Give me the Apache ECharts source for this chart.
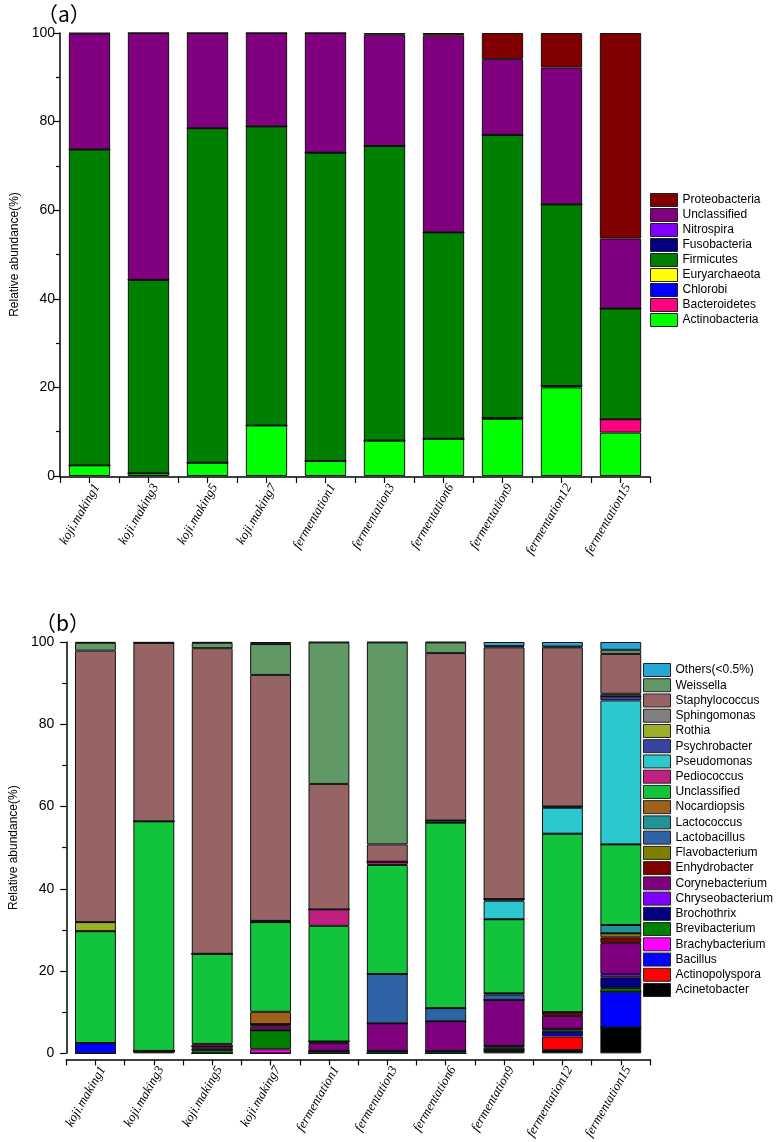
<!DOCTYPE html>
<html><head><meta charset="utf-8">
<script src="https://cdn.jsdelivr.net/npm/echarts@6/dist/echarts.min.js"></script>
<style>html,body{margin:0;padding:0;background:#fff}#c{width:776px;height:1142px}</style>
</head><body><div id="c"></div>
<script>
const categories = ['koji.making1','koji.making3','koji.making5','koji.making7','fermentation1','fermentation3','fermentation6','fermentation9','fermentation12','fermentation15'];
const yTicks = [0,20,40,60,80,100];

// Panel (a) – phylum level (stack order bottom -> top)
const phylumNames = ['Actinobacteria','Bacteroidetes','Chlorobi','Euryarchaeota','Firmicutes','Fusobacteria','Nitrospira','Unclassified','Proteobacteria'];
const phylumColors = ['#00FF00','#FF0080','#0000FF','#FFFF00','#008000','#000080','#8000FF','#800080','#800000'];
const actinobacteria = [2.4,0.6,3.0,11.4,3.4,8.0,8.4,12.9,20.0,9.8];
const bacteroidetes  = [0,0,0,0,0,0,0,0.2,0.3,3.0];
const chlorobi       = [0,0,0,0,0,0,0,0,0,0];
const euryarchaeota  = [0,0,0,0,0,0,0,0,0,0];
const firmicutes     = [71.3,43.7,75.5,67.5,69.6,66.5,46.6,63.9,41.0,25.0];
const fusobacteria   = [0,0,0,0,0,0,0,0,0,0];
const nitrospira     = [0,0,0,0,0,0,0,0,0,0];
const unclassifiedA  = [26.2,55.7,21.5,21.1,27.0,25.1,44.4,17.1,30.9,15.8];
const proteobacteria = [0.1,0,0,0,0,0.4,0.6,5.9,7.8,46.4];
const phylumData = [actinobacteria,bacteroidetes,chlorobi,euryarchaeota,firmicutes,fusobacteria,nitrospira,unclassifiedA,proteobacteria];

// Panel (b) – genus level (stack order bottom -> top)
const genusNames = ['Acinetobacter','Actinopolyspora','Bacillus','Brachybacterium','Brevibacterium','Brochothrix','Chryseobacterium','Corynebacterium','Enhydrobacter','Flavobacterium','Lactobacillus','Lactococcus','Nocardiopsis','Unclassified','Pediococcus','Pseudomonas','Psychrobacter','Rothia','Sphingomonas','Staphylococcus','Weissella','Others(<0.5%)'];
const genusColors = ['#000000','#FF0000','#0000FF','#FF00FF','#008000','#000080','#8000FF','#800080','#800000','#808000','#2E64A6','#1F9498','#A0621A','#12C43C','#C0207F','#2CC8D0','#3A44A0','#9DAF2A','#808080','#966464','#609966','#29A6D6'];
const acinetobacter    = [0,0.6,0,0,0,0,0,0.6,0.8,6.3];
const actinopolyspora  = [0,0,0,0,0,0,0,0,3.3,0];
const bacillus         = [2.5,0,0,0,0,0,0,0.4,1.0,8.7];
const brachybacterium  = [0,0,0,1.0,0,0,0,0,0,0];
const brevibacterium   = [0,0,0.9,4.6,0.6,0.6,0.6,0.5,0.5,0.9];
const brochothrix      = [0,0,0,0,0,0,0,0.3,0.4,2.6];
const chryseobacterium = [0,0,0,0,0,0,0,0,0,0.8];
const corynebacterium  = [0,0,0.8,1.0,1.9,6.7,7.2,11.2,3.1,7.5];
const enhydrobacter    = [0,0,0,0.5,0.4,0,0,0,0.9,1.4];
const flavobacterium   = [0,0,0,0,0,0,0,0,0,1.0];
const lactobacillus    = [0,0,0,0,0,12.0,3.2,1.3,0,0];
const lactococcus      = [0,0,0,0,0,0,0,0.3,0,2.0];
const nocardiopsis     = [0,0,0.6,3.0,0,0,0,0,0,0];
const unclassifiedB    = [27.2,55.8,21.9,21.8,28.1,26.5,45.1,18.0,43.4,19.6];
const pediococcus      = [0,0,0,0,4.0,0.8,0,0,0,0];
const pseudomonas      = [0,0,0,0,0,0,0.5,4.5,6.3,35.0];
const psychrobacter    = [0,0,0,0.3,0,0,0,0.4,0.3,1.0];
const rothia           = [2.2,0,0,0,0,0,0,0,0,0];
const sphingomonas     = [0,0,0,0,0,0,0,0,0,0.6];
const staphylococcus   = [66.0,43.4,74.3,59.8,30.5,4.2,40.7,61.2,38.7,9.7];
const weissella        = [1.9,0,1.3,7.5,34.4,49.1,2.6,0.3,0.2,1.0];
const others           = [0.2,0.2,0.2,0.5,0.1,0.1,0.1,1.0,1.1,1.9];
const genusData = [acinetobacter,actinopolyspora,bacillus,brachybacterium,brevibacterium,brochothrix,chryseobacterium,corynebacterium,enhydrobacter,flavobacterium,lactobacillus,lactococcus,nocardiopsis,unclassifiedB,pediococcus,pseudomonas,psychrobacter,rothia,sphingomonas,staphylococcus,weissella,others];

const chart = echarts.init(document.getElementById('c'), null, {renderer:'canvas'});
const SANS = '"Liberation Sans", Arial, sans-serif';
const axisCol = '#000';
// label axis: each category split into SUB sub-steps; labels sit SHIFT sub-steps right of the centre
const SUB = 16, SHIFT = 2;

function yAxisCfg(gi, offset){
  return {
    type:'value', gridIndex:gi, min:0, max:100, interval:20, offset:offset,
    name:'Relative abundance(%)', nameLocation:'middle', nameGap:offset ? 31 : 38,
    nameTextStyle:{fontFamily:SANS,fontSize:12,color:'#000'},
    axisLine:{show:true,lineStyle:{color:axisCol,width:1.5}},
    axisTick:{show:true,length:6,lineStyle:{color:axisCol,width:1.2}},
    minorTick:{show:true,splitNumber:2,length:4,lineStyle:{color:axisCol,width:1.2}},
    axisLabel:{fontFamily:SANS,fontSize:14,color:'#000',margin:5},
    splitLine:{show:false}
  };
}
function xCatCfg(gi){
  return {
    type:'category', gridIndex:gi, data:categories, position:'bottom',
    axisLine:{show:false}, axisTick:{show:false}, axisLabel:{show:false}
  };
}
function xLabelCfg(gi, offset){
  return {
    type:'value', gridIndex:gi, position:'bottom', offset:offset,
    min:0, max:categories.length*SUB, interval:1,
    axisLine:{show:false}, axisTick:{show:false}, splitLine:{show:false},
    axisLabel:{interval:0, hideOverlap:false, rotate:60, fontFamily:'"Liberation Serif", "Times New Roman", serif', fontStyle:'italic', fontSize:13, color:'#000', margin:8,
      formatter:(v)=>{ const j=Math.round(v)-SUB/2-SHIFT; if (j%SUB!==0) return ''; return categories[j/SUB] || ''; }}
  };
}
function xTickCfg(gi, offset){
  return {
    type:'value', gridIndex:gi, min:0, max:20, interval:1, offset:offset, position:'bottom',
    axisLine:{show:true,lineStyle:{color:axisCol,width:1.5}},
    axisTick:{show:true,length:6,lineStyle:{color:axisCol,width:1.2}},
    axisLabel:{show:false}, splitLine:{show:false}
  };
}

const series = [];
phylumNames.forEach((n,i)=>{
  series.push({name:'a:'+n, type:'bar', stack:'a', xAxisIndex:0, yAxisIndex:0, barWidth:'70%',
    itemStyle:{color:phylumColors[i], borderColor:'#111', borderWidth:1},
    data:phylumData[i], silent:true});
});
genusNames.forEach((n,i)=>{
  series.push({name:'b:'+n, type:'bar', stack:'b', xAxisIndex:3, yAxisIndex:1, barWidth:'70%',
    itemStyle:{color:genusColors[i], borderColor:'#111', borderWidth:1},
    data:genusData[i], silent:true});
});

const legendBase = {orient:'vertical', padding:0, icon:'rect', itemWidth:27, itemHeight:13,
  textStyle:{fontFamily:SANS,fontSize:12,color:'#000',lineHeight:13,padding:[0,0,0,0]},
  itemStyle:{borderColor:'#222',borderWidth:1},
  formatter:(name)=>name.slice(2), selectedMode:false};

chart.setOption({
  animation:false,
  backgroundColor:'#fff',
  title:[
    {text:'（a）', left:32, top:-1, textStyle:{fontFamily:'"Noto Sans CJK SC", sans-serif',fontSize:21,fontWeight:'normal',color:'#000'}},
    {text:'（b）', left:30, top:608, textStyle:{fontFamily:'"Noto Sans CJK SC", sans-serif',fontSize:21,fontWeight:'normal',color:'#000'}}
  ],
  grid:[
    {left:60, top:33, width:590, height:443},
    {left:60, top:642, width:590, height:421}
  ],
  xAxis:[xCatCfg(0), xTickCfg(0,1), xLabelCfg(0,1), xCatCfg(1), xTickCfg(1,6), xLabelCfg(1,6)],
  yAxis:[yAxisCfg(0,0), yAxisCfg(1,7)],
  legend:[
    Object.assign({}, legendBase, {left:650, top:193, itemGap:1,
      data: phylumNames.slice().reverse().map(n=>'a:'+n)}),
    Object.assign({}, legendBase, {left:643, top:663, itemGap:1.24,
      data: genusNames.slice().reverse().map(n=>'b:'+n)})
  ],
  series: series
});
</script></body></html>
